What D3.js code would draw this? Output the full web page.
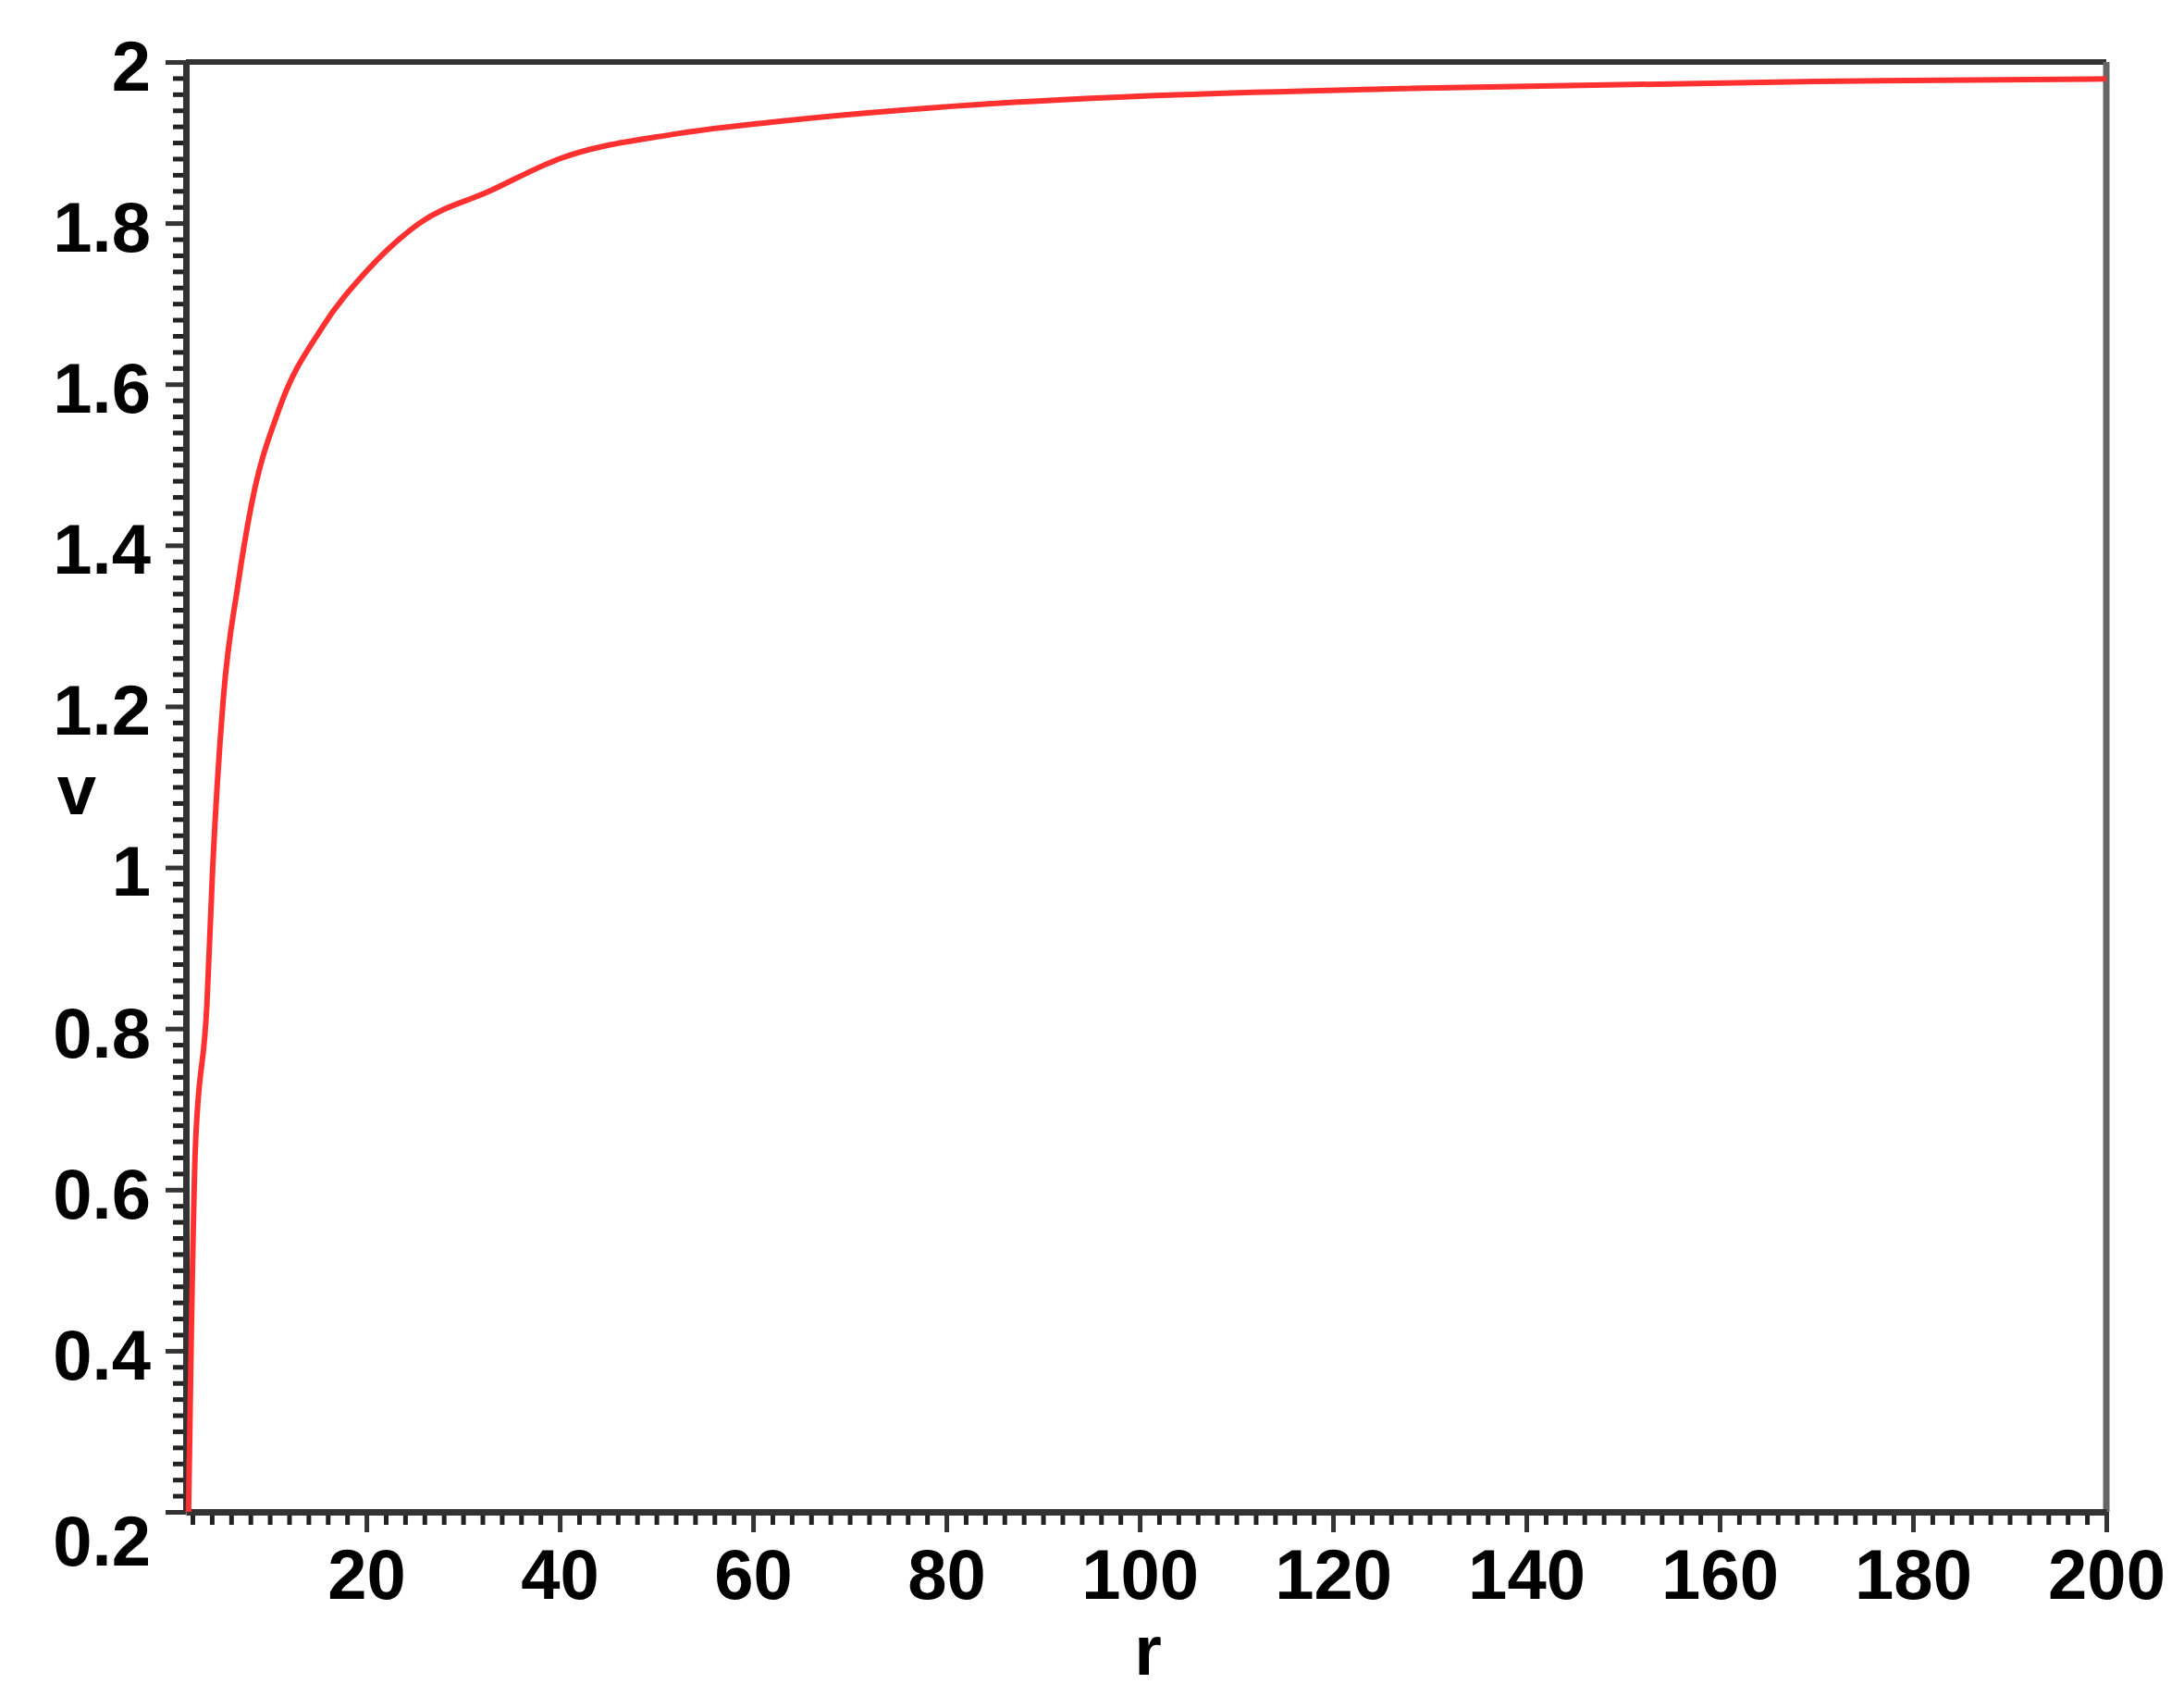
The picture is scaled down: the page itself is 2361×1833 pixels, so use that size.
<!DOCTYPE html>
<html>
<head>
<meta charset="utf-8">
<script src="https://cdn.jsdelivr.net/npm/d3@7"></script>
<style>
  body { margin: 0; background: #fff; }
  text { font-family: "Liberation Sans", Arial, sans-serif; font-weight: bold; }
</style>
</head>
<body>
<svg id="chart" width="2361" height="1833"></svg>
<script>
// curve values
var rValues = [1.6, 1.9, 2.3, 3.5, 4.1, 5.2, 6.7, 8.1, 11, 15.4, 20, 25.5, 32.8, 40, 51.6, 61.7, 80.6, 101, 127, 170, 200];
var vValues = [0.2, 0.43, 0.65, 0.83, 1.0, 1.21, 1.35, 1.45, 1.57, 1.67, 1.74, 1.80, 1.84, 1.88, 1.91, 1.925, 1.945, 1.958, 1.967, 1.976, 1.979];
var xTicks = [20, 40, 60, 80, 100, 120, 140, 160, 180, 200];
var yTicks = [0.2, 0.4, 0.6, 0.8, 1, 1.2, 1.4, 1.6, 1.8, 2];

var svg = d3.select("#chart");
var plotLeft = 201, plotRight = 2277, plotTop = 67, plotBottom = 1634;

var x = d3.scaleLinear().domain([1.33, 200]).range([plotLeft, plotRight]);
var y = d3.scaleLinear().domain([0.2, 2]).range([plotBottom, plotTop]);

// frame: top and right
svg.append("line").attr("x1", plotLeft).attr("x2", plotRight).attr("y1", plotTop).attr("y2", plotTop)
    .attr("stroke", "#333").attr("stroke-width", 6);
svg.append("line").attr("x1", plotRight).attr("x2", plotRight).attr("y1", plotTop).attr("y2", plotBottom)
    .attr("stroke", "#666").attr("stroke-width", 7);

// minor ticks
var xMinor = d3.range(2, 201, 2).filter(d => d % 20 != 0);
var yMinor = d3.range(0.22, 2, 0.02).filter(d => Math.abs(d * 5 - Math.round(d * 5)) > 0.01);

svg.append("g").attr("transform", "translate(0," + plotBottom + ")")
    .call(d3.axisBottom(x).tickValues(xMinor).tickSize(14).tickFormat(""))
    .call(g => g.select(".domain").remove())
    .selectAll("line").attr("stroke", "#222").attr("stroke-width", 5);
svg.append("g").attr("transform", "translate(" + plotLeft + ",0)")
    .call(d3.axisLeft(y).tickValues(yMinor).tickSize(14).tickFormat(""))
    .call(g => g.select(".domain").remove())
    .selectAll("line").attr("stroke", "#222").attr("stroke-width", 5);

// major ticks and labels
var xAxis = svg.append("g").attr("transform", "translate(0," + plotBottom + ")")
    .call(d3.axisBottom(x).tickValues(xTicks).tickSize(22).tickSizeOuter(0).tickPadding(18));
xAxis.select(".domain").attr("stroke", "#333").attr("stroke-width", 7);
xAxis.selectAll("line").attr("stroke", "#333").attr("stroke-width", 5);
xAxis.selectAll("text").attr("font-size", 76).attr("fill", "#000")
    .attr("font-family", "Liberation Sans, Arial, sans-serif").attr("font-weight", "bold");

var yAxis = svg.append("g").attr("transform", "translate(" + plotLeft + ",0)")
    .call(d3.axisLeft(y).tickValues(yTicks).tickSize(22).tickSizeOuter(0).tickPadding(16)
        .tickFormat(d => String(+d.toFixed(1))));
yAxis.select(".domain").attr("stroke", "#333").attr("stroke-width", 7);
yAxis.selectAll("line").attr("stroke", "#333").attr("stroke-width", 5);
yAxis.selectAll("text").attr("font-size", 76).attr("fill", "#000").attr("dy", "0.4em")
    .attr("font-family", "Liberation Sans, Arial, sans-serif").attr("font-weight", "bold");
yAxis.selectAll(".tick").filter(d => d == 0.2).select("text").attr("dy", "0.75em");

// curve
var pts = rValues.map((r, i) => [r, vValues[i]]);
svg.append("path").datum(pts)
    .attr("d", d3.line().x(d => x(d[0])).y(d => y(d[1])).curve(d3.curveMonotoneX))
    .attr("fill", "none").attr("stroke", "#ff3030").attr("stroke-width", 6);

// axis titles
svg.append("text").attr("x", 1241).attr("y", 1810).attr("text-anchor", "middle")
    .attr("font-size", 76).text("r");
svg.append("text").attr("x", 83).attr("y", 880).attr("text-anchor", "middle")
    .attr("font-size", 76).text("v");
</script>
</body>
</html>
